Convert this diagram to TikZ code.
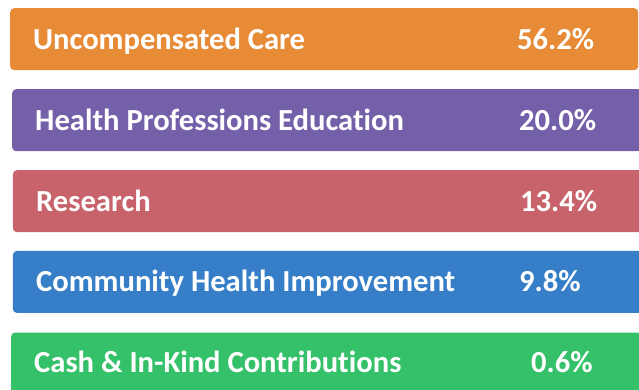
\documentclass[tikz,border=0pt]{standalone}
\usepackage{fontspec}
\setmainfont[Ligatures=NoCommon]{Carlito}
\definecolor{cOrange}{HTML}{E88B36}
\definecolor{cPurple}{HTML}{7460A9}
\definecolor{cRed}{HTML}{C8636B}
\definecolor{cBlue}{HTML}{367FC8}
\definecolor{cGreen}{HTML}{35C169}
\tikzset{
  bar/.style={rectangle, rounded corners=4pt, draw=none, inner sep=0pt, anchor=north west, minimum height=62pt},
  lbl/.style={anchor=base west, inner sep=0pt, text=white, font=\fontsize{30.6}{30.6}\selectfont\bfseries},
}
\begin{document}
\begin{tikzpicture}[x=1pt,y=-1pt]
\useasboundingbox (0,0) rectangle (639,389);
\clip (0,0) rectangle (639,389);
\fill[white] (0,0) rectangle (639,389);
\node[bar, fill=cOrange, minimum width=628pt] (b1) at (10,8) {};
\node[bar, fill=cPurple, minimum width=630pt] (b2) at (12,89) {};
\node[bar, fill=cRed, minimum width=640pt] (b3) at (12.7,170) {};
\node[bar, fill=cBlue, minimum width=640pt] (b4) at (12.7,250.7) {};
\node[bar, fill=cGreen, minimum width=640pt] (b5) at (11,332.3) {};
\node[lbl] (t1) at (33,49) {Uncompensated Care};
\node[lbl] (t2) at (35,130.5) {Health Professions Education};
\node[lbl] (t3) at (36,211.7) {Research};
\node[lbl] (t4) at (36,291.7) {Community Health Improvement};
\node[lbl] (t5) at (34,372.7) {Cash \& In-Kind Contributions};
\node[lbl] (p1) at (517,49) {56.2\%};
\node[lbl] (p2) at (519,130.5) {20.0\%};
\node[lbl] (p3) at (520,211.7) {13.4\%};
\node[lbl] (p4) at (519,291.7) {9.8\%};
\node[lbl] (p5) at (531,372.7) {0.6\%};
\end{tikzpicture}
\end{document}
